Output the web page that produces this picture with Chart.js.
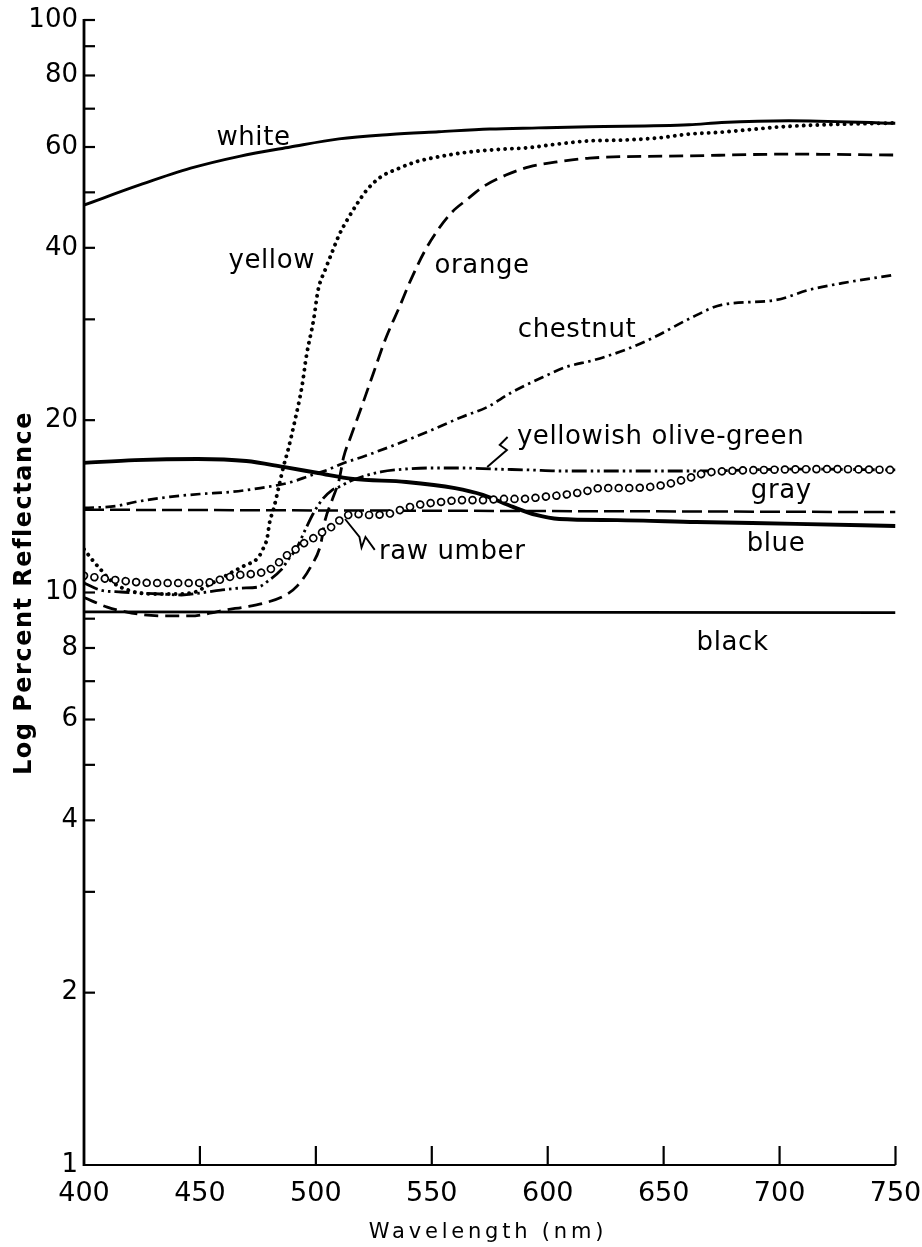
<!DOCTYPE html>
<html>
<head>
<meta charset="utf-8">
<script src="https://cdn.jsdelivr.net/npm/chart.js@4.4.1/dist/chart.umd.min.js"></script>
<style>
  html, body { margin: 0; padding: 0; background: #fff; }
  #wrap { width: 922px; height: 1247px; position: relative; }
</style>
</head>
<body>
<div id="wrap"><canvas id="chart"></canvas></div>
<script>
// ---- axis ticks ----
const xTicks = [400, 450, 500, 550, 600, 650, 700, 750];
const yTicks = [1, 2, 3, 4, 5, 6, 7, 8, 9, 10, 20, 30, 40, 50, 60, 70, 80, 90, 100];
const yTickLabels = ['1', '2', '', '4', '', '6', '', '8', '', '10', '20', '', '40', '', '60', '', '80', '', '100'];

// ---- curves (wavelength nm, percent reflectance) ----
const whiteWl  = [400, 424, 446, 467, 489, 510, 532, 553, 575, 596, 618, 661, 675, 704, 750];
const whiteVal = [47.5, 51.5, 55.1, 57.8, 60.0, 62.0, 63.1, 63.8, 64.5, 64.8, 65.1, 65.6, 66.2, 66.7, 66.0];

const yellowWl  = [400, 404, 407, 410, 414, 419, 424, 430, 439, 448, 453, 458, 464, 469, 475, 477, 479, 480, 482, 484,
                   486, 488, 491, 494, 496, 499, 501, 504, 507, 510, 514, 518, 522, 528, 535, 543, 552, 566, 581, 591,
                   604, 618, 632, 647, 661, 675, 690, 699, 718, 750];
const yellowVal = [11.9, 11.35, 10.99, 10.65, 10.31, 10.1, 9.98, 9.94, 9.94, 10.02, 10.27, 10.52, 10.86, 11.13, 11.49, 11.87, 12.45, 13.22, 14.11, 15.29,
                   16.57, 17.74, 20.0, 22.9, 26.0, 29.9, 33.8, 36.6, 39.3, 42.1, 45.1, 47.9, 50.5, 53.2, 54.9, 56.5, 57.6, 58.8, 59.5, 59.8,
                   60.7, 61.5, 61.7, 62.2, 63.2, 63.7, 64.5, 65.0, 65.6, 66.1];

const orangeWl  = [400, 410, 418, 426, 436, 446, 455, 461, 469, 478, 487, 492, 498, 502, 504, 507, 510, 512, 515, 520,
                   525, 530, 536, 541, 547, 553, 559, 565, 572, 582, 592, 604, 618, 661, 704, 750];
const orangeVal = [9.8, 9.43, 9.25, 9.14, 9.1, 9.1, 9.21, 9.32, 9.43, 9.59, 9.9, 10.27, 11.13, 12.1, 13.38, 14.5, 15.72, 17.25, 18.69, 21.26,
                   24.28, 27.7, 31.5, 35.2, 39.5, 43.2, 46.3, 48.5, 51.1, 53.6, 55.4, 56.5, 57.4, 57.9, 58.3, 58.1];

const chestnutWl  = [400, 414, 422, 437, 450, 463, 476, 486, 491, 497, 505, 511, 520, 526, 534, 548, 563, 574, 584, 598,
                     608, 620, 633, 645, 662, 675, 698, 713, 727, 750];
const chestnutVal = [14.05, 14.16, 14.39, 14.69, 14.86, 14.98, 15.22, 15.47, 15.66, 15.98, 16.37, 16.77, 17.25, 17.6, 18.1, 19.07, 20.26, 21.09, 22.31, 23.79,
                     24.77, 25.47, 26.5, 27.8, 30.2, 31.8, 32.4, 33.8, 34.7, 35.9];

const oliveWl  = [400, 407, 416, 424, 433, 442, 450, 459, 468, 475, 480, 485, 488, 492, 495, 499, 503, 507, 510, 515,
                  521, 528, 534, 549, 563, 577, 592, 606, 629, 664, 707, 750];
const oliveVal = [10.39, 10.1, 10.02, 9.98, 9.94, 9.9, 9.98, 10.1, 10.18, 10.22, 10.52, 10.95, 11.4, 12.01, 12.76, 13.77, 14.57, 15.1, 15.29, 15.66,
                  15.98, 16.24, 16.37, 16.5, 16.5, 16.43, 16.37, 16.3, 16.3, 16.3, 16.43, 16.37];

const umberWl  = [400, 410, 422, 430, 439, 448, 455, 461, 467, 476, 482, 486, 491, 495, 499, 503, 508, 512, 517, 522,
                  531, 535, 544, 554, 563, 572, 581, 589, 598, 607, 615, 623, 635, 650, 661, 668, 678, 693, 721, 750];
const umberVal = [10.7, 10.56, 10.43, 10.39, 10.39, 10.39, 10.43, 10.6, 10.73, 10.82, 11.08, 11.49, 11.87, 12.2, 12.45, 12.76, 13.12, 13.55, 13.71, 13.66,
                  13.71, 13.88, 14.22, 14.39, 14.5, 14.5, 14.57, 14.57, 14.69, 14.81, 14.98, 15.22, 15.22, 15.41, 15.85, 16.17, 16.3, 16.37, 16.43, 16.37];

const grayWl  = [400, 750];
const grayVal = [13.95, 13.82];

const blueWl  = [400, 422, 449, 470, 486, 501, 516, 539, 560, 572, 585, 595, 605, 630, 664, 707, 750];
const blueVal = [16.84, 17.03, 17.11, 16.97, 16.57, 16.17, 15.79, 15.6, 15.22, 14.81, 14.11, 13.66, 13.44, 13.38, 13.28, 13.18, 13.07];

const blackWl  = [400, 750];
const blackVal = [9.25, 9.22];

// ---- curve labels and leader lines (data coords) ----
const labelText = ['white', 'yellow', 'orange', 'chestnut', 'yellowish olive-green', 'gray', 'raw umber', 'blue', 'black'];
const labelWl   = [457.1, 462.3, 551.2, 587.1, 586.7, 687.6, 527.2, 685.8, 664.2];
const labelVal  = [60.5, 36.9, 36.1, 27.9, 18.17, 14.63, 11.44, 11.82, 7.94];

const umberLeaderWl  = [512.6, 518.8, 519.7, 521.4, 525.4];
const umberLeaderVal = [13.44, 12.5, 11.98, 12.5, 11.87];
const oliveLeaderWl  = [573.9, 582.4, 579.3, 582.7];
const oliveLeaderVal = [16.57, 17.74, 18.1, 18.69];

function pts(wl, val) {
  return wl.map((w, i) => ({ x: w, y: val[i] }));
}

const base = {
  pointRadius: 0,
  borderColor: '#000',
  fill: false,
  cubicInterpolationMode: 'monotone',
  borderJoinStyle: 'round'
};

// inward ticks, axis lines, titles, labels
const decor = {
  id: 'decor',
  afterDraw(chart) {
    const { ctx, chartArea: a, scales: { x, y } } = chart;
    ctx.save();
    ctx.strokeStyle = '#000';
    ctx.fillStyle = '#000';
    ctx.lineCap = 'butt';

    ctx.lineWidth = 2.8;
    ctx.beginPath();
    ctx.moveTo(a.left, a.top - 1);
    ctx.lineTo(a.left, a.bottom + 1);
    ctx.stroke();
    ctx.lineWidth = 2.2;
    ctx.beginPath();
    ctx.moveTo(a.left - 1, a.bottom);
    ctx.lineTo(a.right, a.bottom);
    ctx.stroke();

    yTicks.forEach(v => {
      if (v === 1) return;
      const py = y.getPixelForValue(v);
      ctx.beginPath();
      ctx.moveTo(a.left, py);
      ctx.lineTo(a.left + 11, py);
      ctx.stroke();
    });
    xTicks.forEach(v => {
      if (v === 400) return;
      const px = x.getPixelForValue(v);
      ctx.beginPath();
      ctx.moveTo(px, a.bottom);
      ctx.lineTo(px, a.bottom - 19);
      ctx.stroke();
    });

    // leaders
    ctx.lineWidth = 1.9;
    ctx.lineJoin = 'miter';
    [[umberLeaderWl, umberLeaderVal], [oliveLeaderWl, oliveLeaderVal]].forEach(([wl, val]) => {
      ctx.beginPath();
      wl.forEach((w, i) => {
        const px = x.getPixelForValue(w), py = y.getPixelForValue(val[i]);
        if (i === 0) ctx.moveTo(px, py); else ctx.lineTo(px, py);
      });
      ctx.stroke();
    });

    // curve labels
    ctx.font = '26px "DejaVu Sans"';
    ctx.letterSpacing = '0.6px';
    ctx.textAlign = 'left';
    ctx.textBaseline = 'alphabetic';
    labelText.forEach((t, i) => {
      ctx.fillText(t, x.getPixelForValue(labelWl[i]), y.getPixelForValue(labelVal[i]));
    });

    // axis titles
    ctx.font = '21px "DejaVu Sans"';
    ctx.letterSpacing = '3.8px';
    ctx.textAlign = 'center';
    ctx.fillText('Wavelength (nm)', 488, 1238);

    ctx.save();
    ctx.translate(31, 593);
    ctx.rotate(-Math.PI / 2);
    ctx.font = '600 24px "DejaVu Sans"';
    ctx.letterSpacing = '1.5px';
    ctx.textAlign = 'center';
    ctx.textBaseline = 'alphabetic';
    ctx.fillText('Log Percent Reflectance', 0, 0);
    ctx.restore();

    ctx.restore();
  }
};

new Chart(document.getElementById('chart'), {
  type: 'line',
  data: {
    datasets: [
      { ...base, label: 'raw umber inner', data: pts(umberWl, umberVal), borderColor: '#fff', borderWidth: 5.2,
        borderDash: [0.01, 10.5], borderCapStyle: 'round', order: 0 },
      { ...base, label: 'raw umber', data: pts(umberWl, umberVal), borderWidth: 8.6,
        borderDash: [0.01, 10.5], borderCapStyle: 'round', order: 1 },
      { ...base, label: 'white', data: pts(whiteWl, whiteVal), borderWidth: 2.9, order: 2 },
      { ...base, label: 'yellow', data: pts(yellowWl, yellowVal), borderWidth: 3.9,
        borderDash: [0.01, 6.8], borderCapStyle: 'round', order: 2 },
      { ...base, label: 'orange', data: pts(orangeWl, orangeVal), borderWidth: 2.8, borderDash: [14, 7], order: 2 },
      { ...base, label: 'chestnut', data: pts(chestnutWl, chestnutVal), borderWidth: 2.7, borderDash: [10, 4.5, 2.5, 4.5], order: 2 },
      { ...base, label: 'yellowish olive-green', data: pts(oliveWl, oliveVal), borderWidth: 2.8,
        borderDash: [15, 4, 2.5, 4, 2.5, 4], order: 2 },
      { ...base, label: 'gray', data: pts(grayWl, grayVal), borderWidth: 2.5, borderDash: [20, 6], order: 2 },
      { ...base, label: 'blue', data: pts(blueWl, blueVal), borderWidth: 3.9, order: 2 },
      { ...base, label: 'black', data: pts(blackWl, blackVal), borderWidth: 2.7, order: 2 }
    ]
  },
  options: {
    responsive: true,
    maintainAspectRatio: false,
    animation: false,
    layout: { padding: { top: 20, right: 26.5, left: 0, bottom: 0 } },
    plugins: { legend: { display: false }, tooltip: { enabled: false } },
    scales: {
      x: {
        type: 'linear',
        min: 400,
        max: 750,
        afterFit: s => { s.height = 82; s.paddingLeft = 0; s.paddingRight = 0; },
        afterBuildTicks: s => { s.ticks = xTicks.map(v => ({ value: v })); },
        grid: { display: false, drawTicks: false },
        border: { display: false },
        ticks: { color: '#000', font: { family: 'DejaVu Sans', size: 27 }, padding: 13, maxRotation: 0, autoSkip: false }
      },
      y: {
        type: 'logarithmic',
        min: 1,
        max: 100,
        afterFit: s => { s.width = 84; s.paddingTop = 0; s.paddingBottom = 0; },
        afterBuildTicks: s => { s.ticks = yTicks.map(v => ({ value: v })); },
        grid: { display: false, drawTicks: false },
        border: { display: false },
        ticks: {
          color: '#000',
          font: { family: 'DejaVu Sans', size: 26 },
          padding: 6,
          autoSkip: false,
          callback: v => yTickLabels[yTicks.indexOf(v)]
        }
      }
    }
  },
  plugins: [decor]
});
</script>
</body>
</html>
